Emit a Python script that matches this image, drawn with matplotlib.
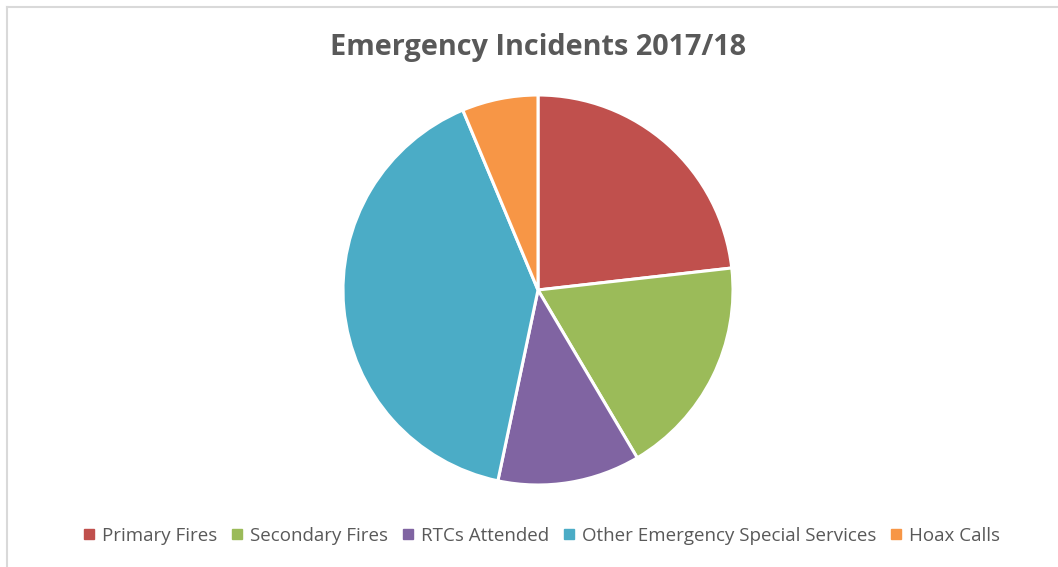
import matplotlib
matplotlib.use('Agg')
import matplotlib.pyplot as plt
from matplotlib.lines import Line2D

plt.rcParams['font.family'] = ['Open Sans', 'DejaVu Sans']

# data (share of incidents, %)
labels = ['Primary Fires', 'Secondary Fires', 'RTCs Attended',
          'Other Emergency Special Services', 'Hoax Calls']
shares = [23.2, 18.3, 11.8, 40.4, 6.3]
colors = ['#C0504D', '#9BBB59', '#8064A2', '#4BACC6', '#F79646']

W, H = 1058, 567
fig = plt.figure(figsize=(W / 100, H / 100), dpi=100)

# pie: centre (538, 290) px, radius 195 px
cx, cy, r = 538, 290, 195
ax = fig.add_axes([(cx - r) / W, (H - cy - r) / H, 2 * r / W, 2 * r / H])
ax.pie(shares, colors=colors, startangle=90, counterclock=False,
       wedgeprops=dict(edgecolor='white', linewidth=2.2), radius=1)
ax.set_xlim(-1, 1)
ax.set_ylim(-1, 1)
ax.set_aspect('equal')
ax.axis('off')

fig.text(cx / W, 1 - 47 / H, 'Emergency Incidents 2017/18', ha='center', va='center',
         fontsize=20.8, fontweight='bold', color='#595959')

handles = [Line2D([], [], marker='s', linestyle='none', markersize=7,
                  markerfacecolor=c, markeredgecolor=c) for c in colors]
fig.legend(handles, labels, loc='center', bbox_to_anchor=(542 / W, 1 - 536 / H),
           ncol=5, frameon=False, fontsize=13.5, labelcolor='#595959',
           handlelength=0.6, handletextpad=0.4, columnspacing=0.75)

# chart frame (only top and left edges show)
fig.add_artist(Line2D([6.5 / W, 6.5 / W], [0, 1 - 6.5 / H], transform=fig.transFigure,
                      color='#D9D9D9', linewidth=1.5))
fig.add_artist(Line2D([6.5 / W, 1], [1 - 6.5 / H, 1 - 6.5 / H], transform=fig.transFigure,
                      color='#D9D9D9', linewidth=1.5))

fig.savefig('out.png', dpi=100)
